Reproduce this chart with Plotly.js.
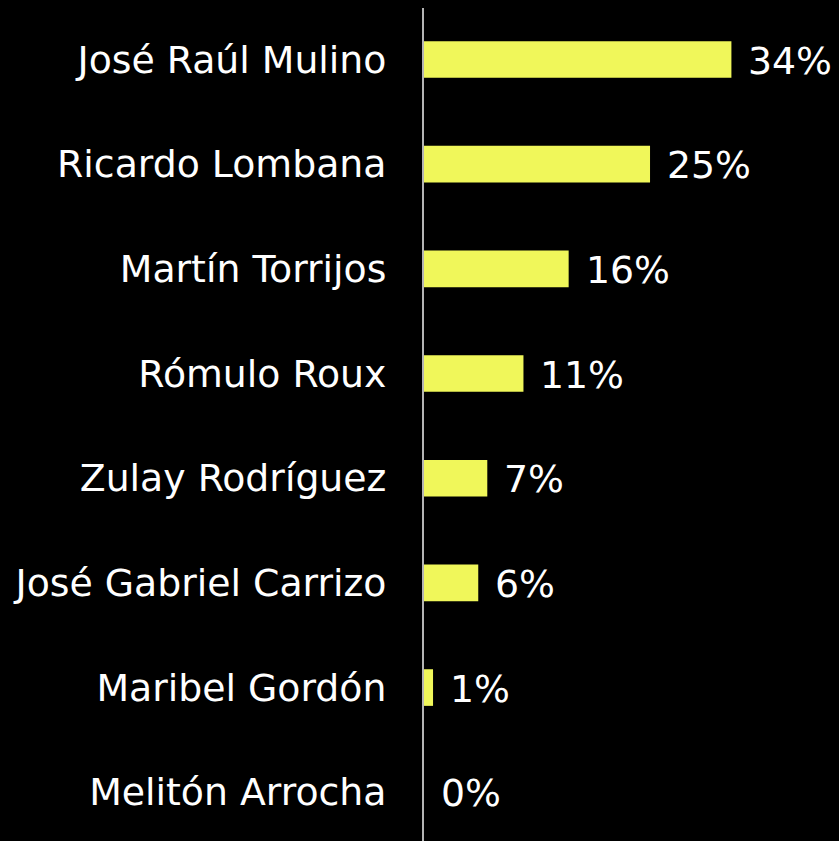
<!DOCTYPE html>
<html>
<head>
<meta charset="utf-8">
<script src="https://cdn.plot.ly/plotly-3.0.1.min.js"></script>
<style>html,body{margin:0;padding:0;background:#000;}#chart{width:839px;height:841px;}</style>
</head>
<body>
<div id="chart"></div>
<script>
const candidates = ["José Raúl Mulino","Ricardo Lombana","Martín Torrijos","Rómulo Roux","Zulay Rodríguez","José Gabriel Carrizo","Maribel Gordón","Melitón Arrocha"];
const values = [34, 25, 16, 11, 7, 6, 1, 0];
const valueLabels = ["34%","25%","16%","11%","7%","6%","1%","0%"];

const font = {family: "Verdana, 'DejaVu Sans', sans-serif", size: 37.8, color: "#ffffff"};

const trace = {
  type: "bar",
  orientation: "h",
  y: candidates,
  x: values,
  width: 0.35,
  marker: {color: "#f0f75a"},
  hoverinfo: "skip"
};

const annotations = candidates.map((c, i) => ({
  x: values[i], y: c, xref: "x", yref: "y",
  text: valueLabels[i], showarrow: false,
  xanchor: "left", yanchor: "middle", xshift: 15, yshift: -1,
  font: font
}));

const layout = {
  width: 839, height: 841,
  paper_bgcolor: "#000000", plot_bgcolor: "#000000",
  margin: {l: 424, r: 0, t: 8, b: 0},
  showlegend: false,
  xaxis: {range: [0, 45.9], showgrid: false, zeroline: false, showticklabels: false, showline: false, fixedrange: true},
  yaxis: {
    type: "category", range: [7.466, -0.492],
    showgrid: false, zeroline: false,
    showline: true, linecolor: "#b4b4b4", linewidth: 2,
    ticks: "", ticklabelstandoff: 28,
    tickfont: font, automargin: false
  },
  annotations: annotations
};

Plotly.newPlot("chart", [trace], layout, {staticPlot: true, displayModeBar: false});
</script>
</body>
</html>
